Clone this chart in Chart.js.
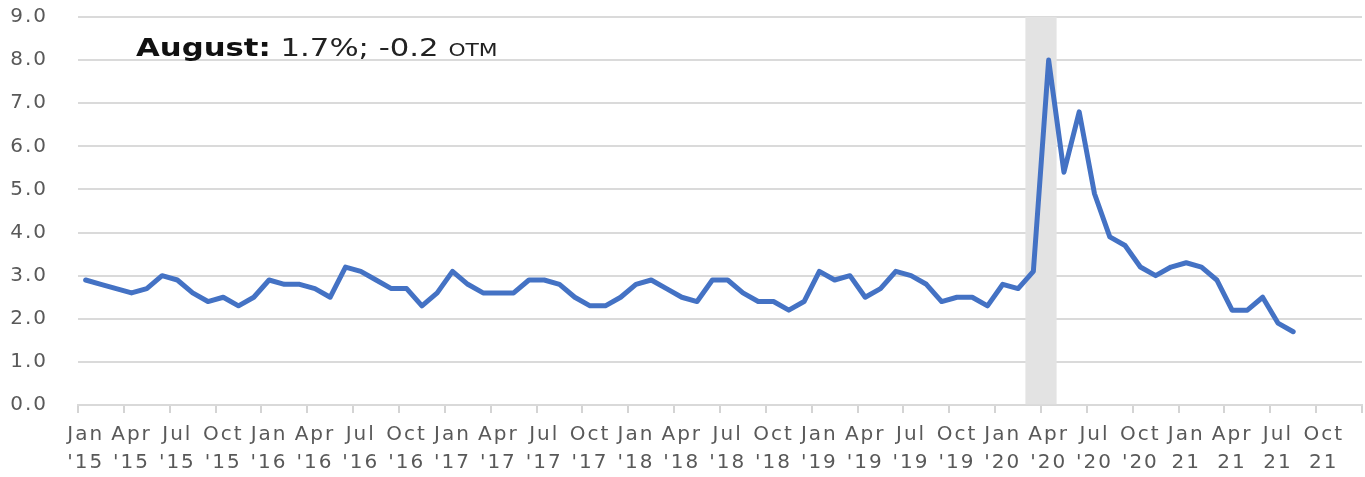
<!DOCTYPE html>
<html><head><meta charset="utf-8">
<script src="https://cdn.jsdelivr.net/npm/chart.js@4.4.0/dist/chart.umd.min.js"></script>
<style>
html,body{margin:0;padding:0;background:#fff;}
#wrap{position:relative;width:1365px;height:477px;}
#note{position:absolute;left:136px;top:34px;font-family:"DejaVu Sans";font-size:24px;line-height:28px;color:#222;white-space:nowrap;transform:scaleX(1.28);transform-origin:0 0;}
#note b{font-weight:bold;color:#111}
#note .otm{font-size:17px}
</style></head><body>
<div id="wrap"><canvas id="c" width="1365" height="477"></canvas><div id="note"><b>August:</b> 1.7%; -0.2 <span class="otm">OTM</span></div></div>
<script>
const years = [2015, 2016, 2017, 2018, 2019, 2020, 2021];
const monthNames = ["Jan","Feb","Mar","Apr","May","Jun","Jul","Aug","Sep","Oct","Nov","Dec"];
const categories = [];
for (const y of years) for (const m of monthNames) categories.push(m + " " + y);

const tickLabels = [
  ["Jan","'15"],["Apr","'15"],["Jul","'15"],["Oct","'15"],
  ["Jan","'16"],["Apr","'16"],["Jul","'16"],["Oct","'16"],
  ["Jan","'17"],["Apr","'17"],["Jul","'17"],["Oct","'17"],
  ["Jan","'18"],["Apr","'18"],["Jul","'18"],["Oct","'18"],
  ["Jan","'19"],["Apr","'19"],["Jul","'19"],["Oct","'19"],
  ["Jan","'20"],["Apr","'20"],["Jul","'20"],["Oct","'20"],
  ["Jan","21"],["Apr","21"],["Jul","21"],["Oct","21"]
];

const rate2015 = [2.9, 2.8, 2.7, 2.6, 2.7, 3.0, 2.9, 2.6, 2.4, 2.5, 2.3, 2.5];
const rate2016 = [2.9, 2.8, 2.8, 2.7, 2.5, 3.2, 3.1, 2.9, 2.7, 2.7, 2.3, 2.6];
const rate2017 = [3.1, 2.8, 2.6, 2.6, 2.6, 2.9, 2.9, 2.8, 2.5, 2.3, 2.3, 2.5];
const rate2018 = [2.8, 2.9, 2.7, 2.5, 2.4, 2.9, 2.9, 2.6, 2.4, 2.4, 2.2, 2.4];
const rate2019 = [3.1, 2.9, 3.0, 2.5, 2.7, 3.1, 3.0, 2.8, 2.4, 2.5, 2.5, 2.3];
const rate2020 = [2.8, 2.7, 3.1, 8.0, 5.4, 6.8, 4.9, 3.9, 3.7, 3.2, 3.0, 3.2];
const rate2021 = [3.3, 3.2, 2.9, 2.2, 2.2, 2.5, 1.9, 1.7];
const rateSeries = [].concat(rate2015, rate2016, rate2017, rate2018, rate2019, rate2020, rate2021);

const shadedMonths = ["Mar 2020", "Apr 2020"];
const yMin = 0, yMax = 9, yStep = 1;

const shadeData = categories.map(c => shadedMonths.includes(c) ? yMax : null);

const wideText = {
  id: "wideText",
  beforeDraw(chart) { try { chart.ctx.letterSpacing = "2px"; } catch (e) {} }
};

new Chart(document.getElementById("c"), {
  type: "line",
  plugins: [wideText],
  data: {
    labels: categories,
    datasets: [
      {
        type: "line",
        data: rateSeries,
        borderColor: "#4472C4",
        borderWidth: 5,
        pointRadius: 0,
        tension: 0,
        borderJoinStyle: "round",
        borderCapStyle: "round",
        fill: false
      },
      {
        type: "bar",
        data: shadeData,
        backgroundColor: "#e3e3e3",
        borderWidth: 0,
        barPercentage: 1,
        categoryPercentage: 1
      }
    ]
  },
  options: {
    responsive: false,
    animation: false,
    devicePixelRatio: 1,
    layout: { padding: { top: 17, right: 3, bottom: 0, left: 0 } },
    plugins: { legend: { display: false }, tooltip: { enabled: false }, title: { display: false } },
    scales: {
      x: {
        type: "category",
        offset: true,
        afterFit: s => { s.height = 72; },
        grid: {
          offset: true,
          drawOnChartArea: false,
          drawTicks: true,
          tickLength: 8,
          lineWidth: 2,
          color: ctx => (ctx.type === "tick" ? (ctx.index % 3 === 0 ? "#d4d4d4" : "rgba(0,0,0,0)") : "#d4d4d4")
        },
        border: { display: true, color: "#d9d9d9", width: 2 },
        ticks: {
          autoSkip: false,
          maxRotation: 0,
          minRotation: 0,
          padding: 8,
          color: "#595959",
          font: { family: "DejaVu Sans", size: 20, lineHeight: 1.4 },
          callback: (v, i) => (i % 3 === 0 ? tickLabels[i / 3] : "")
        }
      },
      y: {
        min: yMin,
        max: yMax,
        afterFit: s => { s.width = 78; },
        grid: { color: "#dadada", lineWidth: 2, drawTicks: true, tickLength: 26, tickColor: "rgba(0,0,0,0)" },
        border: { display: false },
        ticks: {
          stepSize: yStep,
          padding: 4,
          color: "#595959",
          font: { family: "DejaVu Sans", size: 20 },
          callback: v => Number(v).toFixed(1)
        }
      }
    }
  }
});
</script>
</body></html>
